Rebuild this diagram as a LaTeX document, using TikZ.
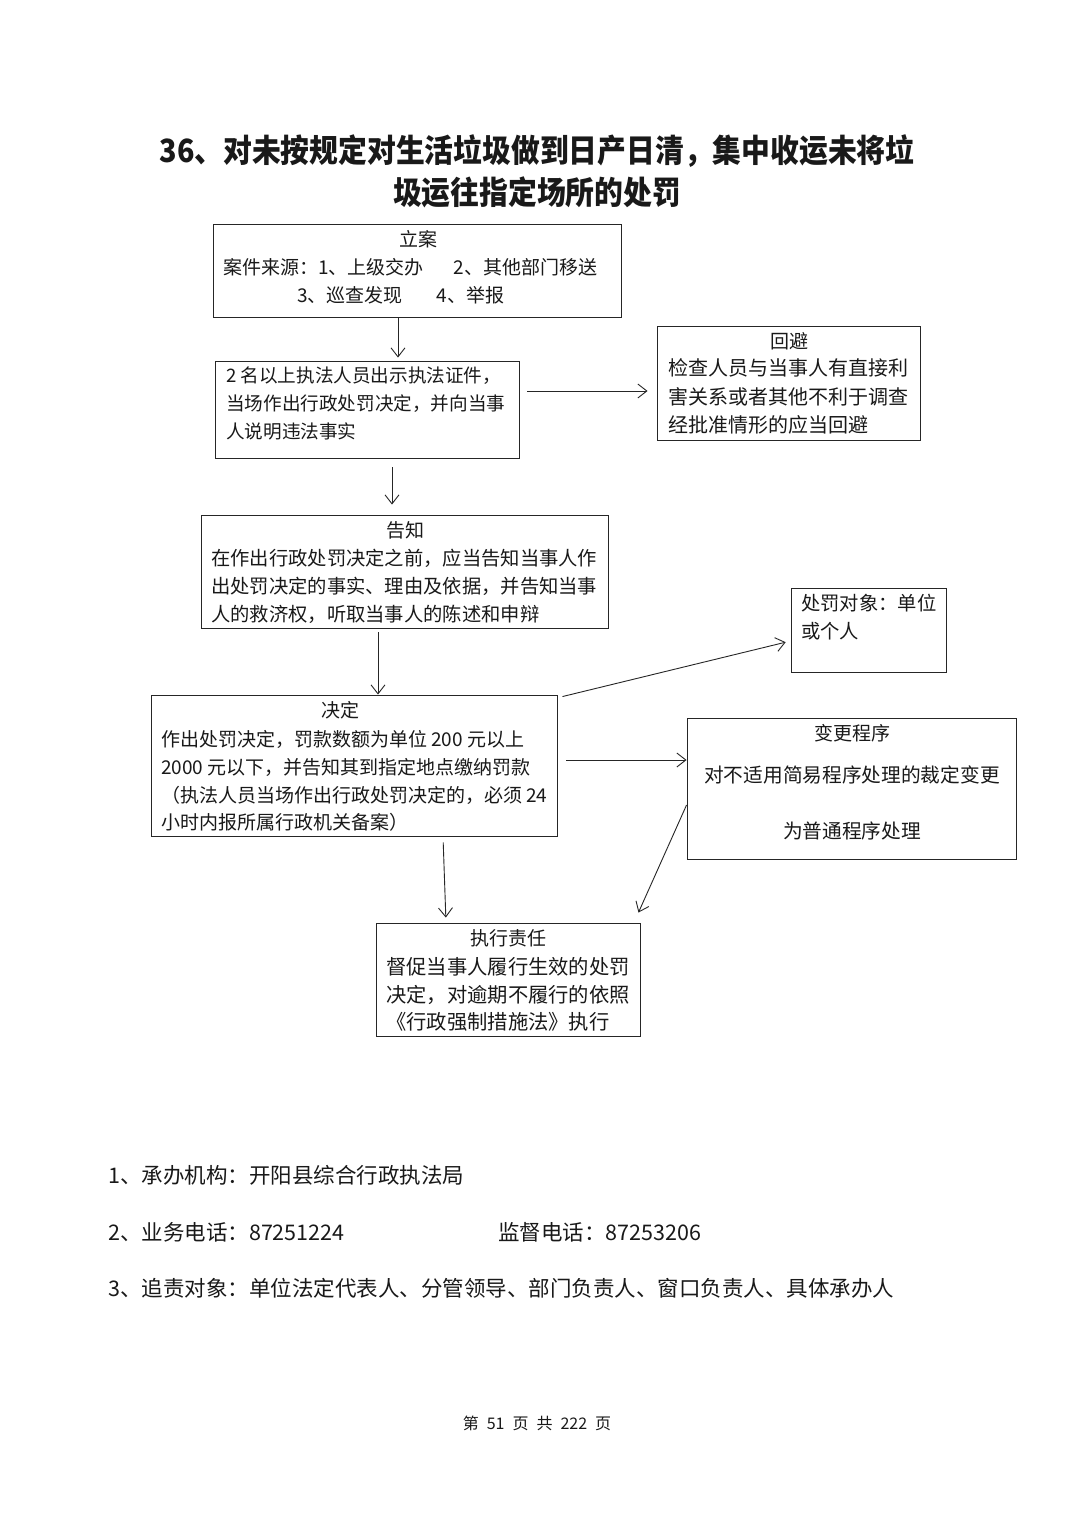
\documentclass[tikz,border=0pt]{standalone}
\usepackage{fontspec}
\usepackage{graphicx}
\setmainfont{Noto Sans CJK SC}
\usetikzlibrary{arrows.meta,calc}
\newcommand\myfs[1]{\fontsize{#1}{#1}\selectfont}
\tikzset{
  box/.style={draw=black!85, line width=0.9pt, inner sep=0pt, fill=none},
  arr/.style={draw=black!85, line width=0.9pt, -{Straight Barb[length=9pt,width=14pt,line width=0.9pt]}},
  lt/.style={anchor=base west, inner sep=0pt, text=black!90},
  ct/.style={anchor=base, inner sep=0pt, text=black!90},
}
\begin{document}
\begin{tikzpicture}[x=1pt,y=-1pt]
\useasboundingbox[fill=white] (0,0) rectangle (1074,1520);

% title
\node[ct] (title1) at (537,162) {\scalebox{0.9}[1]{\myfs{32pt}\bfseries 36、对未按规定对生活垃圾做到日产日清，集中收运未将垃}};
\node[ct] (title2) at (537,204) {\scalebox{0.9}[1]{\myfs{32pt}\bfseries 圾运往指定场所的处罚}};

% boxes
\node[box, minimum width=408pt, minimum height=93pt] (lian) at (417,270.5) {};
\node[box, minimum width=304pt, minimum height=97pt] (zj) at (367,409.5) {};
\node[box, minimum width=263pt, minimum height=114pt] (huibi) at (788.5,383) {};
\node[box, minimum width=407pt, minimum height=113pt] (gaozhi) at (404.5,571.5) {};
\node[box, minimum width=155pt, minimum height=84pt] (dx) at (868.5,630) {};
\node[box, minimum width=406pt, minimum height=141pt] (jd) at (354,765.5) {};
\node[box, minimum width=329pt, minimum height=141pt] (bg) at (851.5,788.5) {};
\node[box, minimum width=264pt, minimum height=113pt] (zx) at (508,979.5) {};

% texts: lian
\node[ct, font=\myfs{19pt}] (la0) at (418,246) {立案};
\node[lt, font=\myfs{19pt}] (la1) at (223,274) {案件来源：1、上级交办\hspace{30pt}2、其他部门移送};
\node[lt, font=\myfs{19pt}] (la2) at (297,302) {3、巡查发现\hspace{34pt}4、举报};

% zj
\node[lt, font=\myfs{18.6pt}] (zj1) at (226,382) {2 名以上执法人员出示执法证件，};
\node[lt, font=\myfs{18.6pt}] (zj2) at (226,410) {当场作出行政处罚决定，并向当事};
\node[lt, font=\myfs{18.6pt}] (zj3) at (226,438) {人说明违法事实};

% huibi
\node[ct, font=\myfs{19pt}] (hb0) at (789,348) {回避};
\node[lt, font=\myfs{20pt}] (hb1) at (668,375) {检查人员与当事人有直接利};
\node[lt, font=\myfs{20pt}] (hb2) at (668,404) {害关系或者其他不利于调查};
\node[lt, font=\myfs{20pt}] (hb3) at (668,432) {经批准情形的应当回避};

% gaozhi
\node[ct, font=\myfs{19pt}] (gz0) at (405,537) {告知};
\node[lt, font=\myfs{19.3pt}] (gz1) at (211,565) {在作出行政处罚决定之前，应当告知当事人作};
\node[lt, font=\myfs{19.3pt}] (gz2) at (211,593) {出处罚决定的事实、理由及依据，并告知当事};
\node[lt, font=\myfs{19.3pt}] (gz3) at (211,621) {人的救济权，听取当事人的陈述和申辩};

% duixiang
\node[lt, font=\myfs{19.3pt}] (dx1) at (801,610) {处罚对象：单位};
\node[lt, font=\myfs{19.3pt}] (dx2) at (801,638) {或个人};

% jueding
\node[ct, font=\myfs{19pt}] (jd0) at (340,717) {决定};
\node[lt, font=\myfs{19pt}] (jd1) at (161,746) {作出处罚决定，罚款数额为单位 200 元以上};
\node[lt, font=\myfs{19pt}] (jd2) at (161,774) {2000 元以下，并告知其到指定地点缴纳罚款};
\node[lt, font=\myfs{19pt}] (jd3) at (161,802) {（执法人员当场作出行政处罚决定的，必须 24};
\node[lt, font=\myfs{19pt}] (jd4) at (161,829) {小时内报所属行政机关备案）};

% biangeng
\node[ct, font=\myfs{19pt}] (bg0) at (852,740) {变更程序};
\node[ct, font=\myfs{19.7pt}] (bg1) at (852,782) {对不适用简易程序处理的裁定变更};
\node[ct, font=\myfs{19.7pt}] (bg2) at (852,838) {为普通程序处理};

% zhixing
\node[ct, font=\myfs{19pt}] (zx0) at (508,945) {执行责任};
\node[lt, font=\myfs{20.3pt}] (zx1) at (386,974) {督促当事人履行生效的处罚};
\node[lt, font=\myfs{20.3pt}] (zx2) at (386,1002) {决定，对逾期不履行的依照};
\node[lt, font=\myfs{20.3pt}] (zx3) at (386,1029) {《行政强制措施法》执行};

% arrows
\draw[arr, shorten >=3pt] ([xshift=-19pt]lian.south) -- ([xshift=-19pt]lian.south |- zj.north);
\draw[arr, shorten <=8pt, shorten >=9pt] ([yshift=18.5pt]zj.east) -- ([yshift=18.5pt]zj.east -| huibi.west);
\draw[arr, shorten <=9pt, shorten >=10pt] ([xshift=25pt]zj.south) -- ([xshift=25pt]zj.south |- gaozhi.north);
\draw[arr, shorten <=4pt] ([xshift=-26.5pt]gaozhi.south) -- ([xshift=-26.5pt]gaozhi.south |- jd.north);
\draw[arr, shorten >=5pt] ([xshift=5pt,yshift=-2pt]jd.north east) -- ([yshift=-11pt]dx.west);
\draw[arr, shorten <=9pt] ([yshift=5.5pt]jd.east) -- ([yshift=5.5pt]jd.east -| bg.west);
\draw[arr, shorten <=6pt, shorten >=5pt] ([xshift=89pt]jd.south) -- ([xshift=-62pt]zx.north);
\draw[arr] ([yshift=-16.5pt]bg.west) -- ([xshift=-2pt,yshift=10pt]zx.north east);

% bottom notes
\node[lt, font=\myfs{21.5pt}] (n1) at (108,1183) {1、承办机构：开阳县综合行政执法局};
\node[lt, font=\myfs{21.5pt}] (n2) at (108,1240) {2、业务电话：87251224};
\node[lt, font=\myfs{21.5pt}] (n2b) at (498,1240) {监督电话：87253206};
\node[lt, font=\myfs{21.5pt}] (n3) at (108,1296) {3、追责对象：单位法定代表人、分管领导、部门负责人、窗口负责人、具体承办人};

% footer
\node[ct, font=\myfs{16pt}] (foot) at (537,1429) {第\hspace{8pt}51\hspace{8pt}页\hspace{8pt}共\hspace{8pt}222\hspace{8pt}页};
\end{tikzpicture}
\end{document}
